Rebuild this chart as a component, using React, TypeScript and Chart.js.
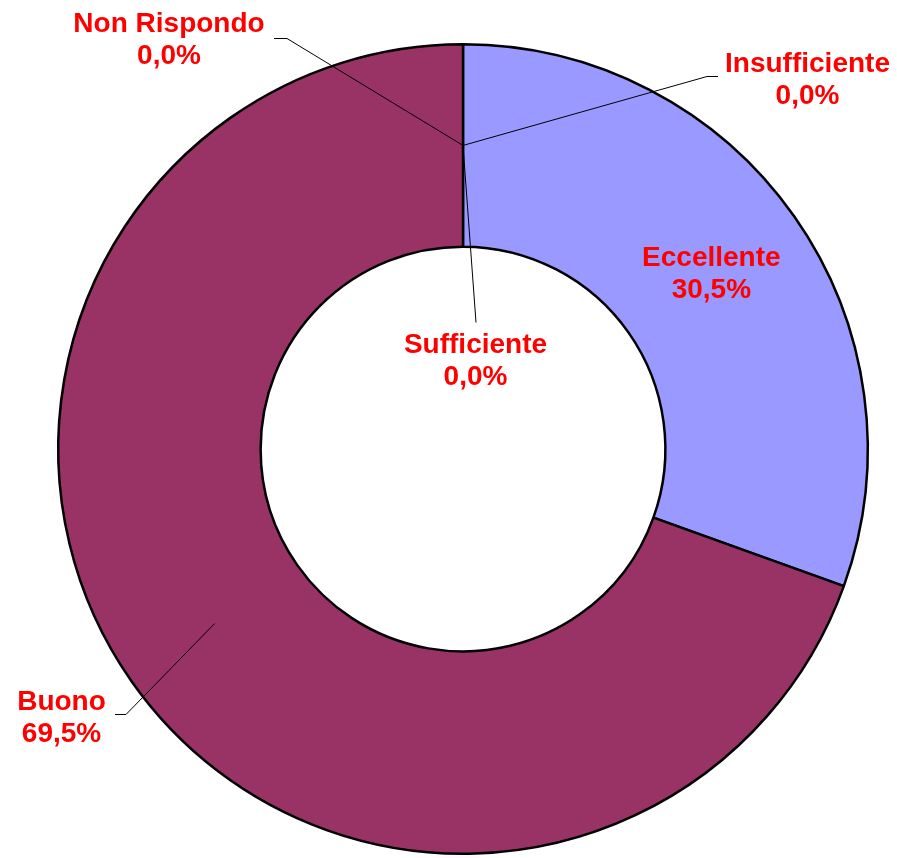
import React, { useEffect, useRef } from "react";
import { Chart, registerables } from "chart.js";

Chart.register(...registerables);

const categories = ["Eccellente", "Buono", "Sufficiente", "Insufficiente", "Non Rispondo"];
const values = [30.5, 69.5, 0, 0, 0];
const colors = ["#9999FF", "#993366", "#FFFFFF", "#FFFFFF", "#FFFFFF"];

// label placement (style only), relative to the chart centre
const labelLayout: any[] = [
  { inside: true, dy: -8 },
  { x: -401.5, y: 260.5, stub: [[-348, 265.5], [-337, 265.5]] },
  { x: 12.5, y: -96.5, stub: [[13, -126.5]] },
  { x: 344.5, y: -377.5, stub: [[255, -372.5], [244, -372.5]] },
  { x: -294, y: -417.5, stub: [[-189, -410.5], [-176, -410.5]] },
];

const fmt = (v: number) => v.toFixed(1).replace(".", ",") + "%";

const labelPlugin = {
  id: "pieLabels",
  afterDatasetsDraw(chart: any) {
    const ctx = chart.ctx;
    const meta = chart.getDatasetMeta(0);
    const area = chart.chartArea;
    const cx = (area.left + area.right) / 2;
    const cy = (area.top + area.bottom) / 2;
    ctx.save();
    ctx.font = "bold 28px 'Liberation Sans', Arial, sans-serif";
    ctx.textAlign = "center";
    ctx.textBaseline = "alphabetic";
    const lh = 32;
    meta.data.forEach((arc: any, i: number) => {
      const lay = labelLayout[i];
      const p = arc.getCenterPoint();
      let tx: number, ty: number;
      if (lay.inside) {
        tx = p.x;
        ty = p.y + lay.dy;
      } else {
        tx = cx + lay.x;
        ty = cy + lay.y;
        ctx.beginPath();
        ctx.strokeStyle = "#000000";
        ctx.lineWidth = 1;
        lay.stub.forEach((s: number[], k: number) => {
          if (k === 0) ctx.moveTo(cx + s[0], cy + s[1]);
          else ctx.lineTo(cx + s[0], cy + s[1]);
        });
        ctx.lineTo(p.x, p.y);
        ctx.stroke();
      }
      ctx.fillStyle = "#FF0000";
      ctx.fillText(categories[i], tx, ty);
      ctx.fillText(fmt(values[i]), tx, ty + lh);
    });
    ctx.restore();
  },
};

export default function App() {
  const ref = useRef<HTMLCanvasElement>(null);
  useEffect(() => {
    if (!ref.current) return;
    const chart = new Chart(ref.current, {
      type: "doughnut",
      data: {
        labels: categories,
        datasets: [
          {
            data: values,
            backgroundColor: colors,
            borderColor: "#000000",
            borderWidth: 2.5,
          },
        ],
      },
      options: {
        responsive: false,
        animation: false,
        cutout: "50%",
        layout: { padding: { left: 57, right: 28, top: 43, bottom: 3 } },
        plugins: {
          legend: { display: false },
          tooltip: { enabled: false },
        },
      },
      plugins: [labelPlugin],
    });
    return () => chart.destroy();
  }, []);
  return (
    <div style={{ position: "absolute", left: 0, top: 0, width: 897, height: 858, background: "#FFFFFF" }}>
      <canvas ref={ref} width={897} height={858} style={{ display: "block" }} />
    </div>
  );
}
